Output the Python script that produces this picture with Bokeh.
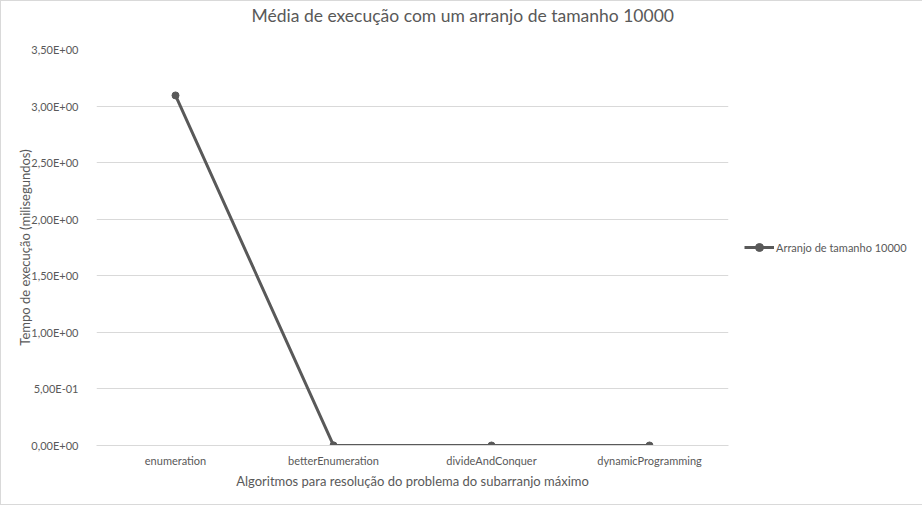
from bokeh.plotting import figure
from bokeh.models import CustomJSTickFormatter, Legend, LegendItem, FixedTicker, Range1d
from bokeh.embed import file_html
from bokeh.resources import INLINE

categories = ["enumeration", "betterEnumeration", "divideAndConquer", "dynamicProgramming"]
values = [3.094, 0.0012, 0.0001, 0.0001]
y_ticks = [0, 0.5, 1.0, 1.5, 2.0, 2.5, 3.0, 3.5]
series_name = "Arranjo de tamanho 10000"
title_text = "Média de execução com um arranjo de tamanho 10000"

FONT = "Lato"
GREY = "#595959"

p = figure(x_range=categories, y_range=Range1d(0, 3.5), frame_width=632, frame_height=396,
           output_backend="svg", toolbar_location=None,
           min_border_left=95, min_border_right=195, min_border_top=48, min_border_bottom=59)
p.x_range.range_padding = 0
p.title.text = title_text + "\n "
p.title.text_font = FONT
p.title.text_font_size = "17.5px"
p.title.text_font_style = "normal"
p.title.text_color = GREY
p.title.align = "left"
p.title.offset = 155
p.title.vertical_align = "top"
p.title.standoff = 2

p.outline_line_color = None
p.styles = {"border": "1px solid #d9d9d9", "box-sizing": "border-box"}

l = p.line(categories, values, line_color=GREY, line_width=3)
c = p.scatter(categories, values, size=7, fill_color=GREY, line_color=GREY)

p.yaxis.ticker = FixedTicker(ticks=y_ticks)
p.yaxis.formatter = CustomJSTickFormatter(code="""
let s = tick.toExponential(2);
let parts = s.split('e');
let m = parts[0].replace('.', ',');
let e = parseInt(parts[1]);
let sign = e < 0 ? '-' : '+';
let a = Math.abs(e);
return m + 'E' + sign + (a < 10 ? '0' + a : '' + a);
""")
p.yaxis.axis_line_color = None
p.yaxis.major_tick_line_color = None
p.yaxis.minor_tick_line_color = None
p.yaxis.major_label_standoff = 12
p.yaxis.axis_label = "Tempo de execução (milisegundos)"
p.yaxis.axis_label_standoff = -5

p.xaxis.axis_line_color = "#d9d9d9"
p.xaxis.major_tick_line_color = None
p.xaxis.minor_tick_line_color = None
p.xaxis.major_label_standoff = 2
p.xaxis.axis_label = "Algoritmos para resolução do problema do subarranjo máximo"
p.xaxis.axis_label_standoff = 3

for ax in [p.xaxis, p.yaxis]:
    ax.major_label_text_font = FONT
    ax.major_label_text_font_size = "11px"
    ax.major_label_text_color = GREY
    ax.axis_label_text_font = FONT
    ax.axis_label_text_font_size = "13px"
    ax.axis_label_text_font_style = "normal"
    ax.axis_label_text_color = GREY

p.xgrid.grid_line_color = None
p.ygrid.grid_line_color = "#d9d9d9"

legend = Legend(items=[LegendItem(label=series_name, renderers=[l, c])],
                border_line_color=None, background_fill_alpha=0,
                label_text_font=FONT, label_text_font_size="11px", label_text_color=GREY,
                glyph_width=30, label_standoff=2, padding=0, margin=16)
p.add_layout(legend, "right")
legend.location = "center_left"

open("out.html", "w").write(file_html(p, INLINE))
